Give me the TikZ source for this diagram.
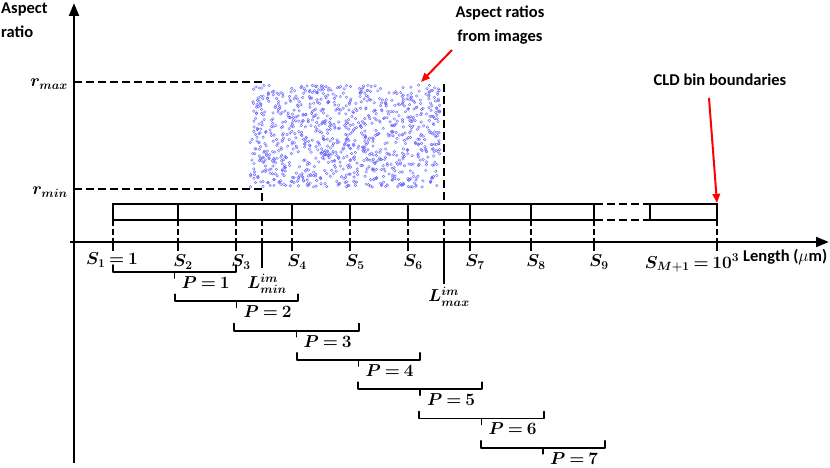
\documentclass[tikz,border=0pt]{standalone}
\usepackage{amsmath, amssymb}
\usepackage{bm}
\usepackage{fontspec}
\newfontfamily\labelfont{Carlito}
\DeclareMathSizes{16}{16}{11.5}{9}
\newcommand{\tightmath}{\thickmuskip=3.5mu\relax}
\usetikzlibrary{arrows.meta}
\usetikzlibrary{positioning,calc}
\tikzset{
    axis/.style={
        draw,
        line width=2.6pt,
        -{Triangle[length=4.5mm, width=3.4mm]}
    },
    binline/.style={
        draw,
        line width=2.2pt
    },
    guide/.style={
        draw,
        line width=2pt,
        dash pattern=on 8pt off 4pt
    },
    tickdash/.style={
        draw,
        line width=2.2pt,
        dash pattern=on 6pt off 3pt
    },
    pointer/.style={
        draw=red,
        line width=2pt,
        -{Triangle[length=3.2mm, width=2.6mm]}
    },
    bracket/.style={
        draw,
        line width=1.8pt,
        line cap=round,
        line join=round
    },
    caption/.style={
        font=\labelfont\bfseries\fontsize{16.5}{24}\selectfont,
        align=center,
        inner sep=0pt
    },
    mathlabel/.style={
        font=\fontsize{16}{18}\selectfont\boldmath\tightmath,
        inner sep=0pt
    },
    sample/.style={
        draw=blue!60,
        line width=0.4pt
    }
}

\begin{document}
\begin{tikzpicture}[x=1pt, y=-1pt]
    \useasboundingbox (0,0) rectangle (830,468);

    % Aspect ratios from images
    \pgfmathsetseed{42}
    \foreach \i in {1,...,1000} {
        \pgfmathsetmacro{\px}{254+7.9*floor(24*rnd)+4*rand}
        \pgfmathsetmacro{\py}{85+102*rnd}
        \draw[sample] (\px,\py) circle[radius=1.3pt];
    }

    % Axes
    \coordinate (origin) at (74,242);
    \coordinate (ybase) at (74,463);
    \coordinate (ytip) at (74,3);
    \coordinate (xbase) at (70,242);
    \coordinate (xtip) at (829,242);
    \draw[axis] (ybase) -- (ytip);
    \draw[axis] (xbase) -- (xtip);
    \node[caption, align=left, anchor=north west] (ylabel) at (1,3) {Aspect\\ratio};
    \node[caption, anchor=west] (xlabel) at (743,257) {Length ($\mu$m)};

    % Ratio limits
    \coordinate (rmax) at (74,82);
    \coordinate (rmin) at (74,189);
    \coordinate (rmax end) at (262,82);
    \coordinate (rmin end) at (262,189);
    \coordinate (lmin top) at (262,204);
    \coordinate (lmax top) at (444,84);
    \coordinate (lmax bot) at (444,204);
    \node[mathlabel, anchor=east] (rmaxlab) at (68,84) {$\bm{r_{max}}$};
    \node[mathlabel, anchor=east] (rminlab) at (68,192) {$\bm{r_{min}}$};
    \draw[guide] (rmax) -- (rmax end);
    \draw[guide] (rmin) -- (rmin end) -- (lmin top);
    \draw[guide, line width=1.5pt] (lmax top) -- (lmax bot);

    % CLD bins
    \draw[binline] (113,220) -- (113,204) -- (595,204);
    \draw[binline] (113,220) -- (595,220);
    \draw[guide] (595,204) -- (650,204);
    \draw[guide] (595,220) -- (650,220);
    \draw[binline] (650,204) rectangle (717,220);
    \foreach \k/\x in {1/113, 2/178, 3/236, 4/292, 5/350, 6/408, 7/470, 8/531, 9/594, M/717} {
        \coordinate (s\k top) at (\x,204);
        \coordinate (s\k mid) at (\x,220);
        \coordinate (s\k axis) at (\x,242);
        \coordinate (s\k low) at (\x,251);
        \draw[binline] (s\k top) -- (s\k mid);
        \draw[tickdash] (s\k mid) -- (s\k axis);
        \draw[binline] (s\k axis) -- (s\k low);
    }
    \node[mathlabel] (slab1) at (112,260) {$\bm{S_1 = 1}$};
    \foreach \k/\x in {2/178, 3/236, 4/292, 5/350, 6/408, 7/470, 8/531, 9/594} {
        \node[mathlabel] (slab\k) at (\x+5,262) {$\bm{S_{\k}}$};
    }
    \node[mathlabel] (slabM) at (692,263) {$\bm{S_{M+1} = 10^3}$};

    % Image length limits
    \draw[tickdash] (262,220) -- (262,242);
    \draw[binline] (262,242) -- (262,268);
    \node[mathlabel] (lmin) at (267,284) {$\bm{L^{im}_{min}}$};
    \draw[tickdash] (444,220) -- (444,242);
    \draw[binline] (444,242) -- (444,284);
    \node[mathlabel] (lmax) at (449,297) {$\bm{L^{im}_{max}}$};

    % Moving windows
    \foreach \k/\a/\b in {1/113/236, 2/175/298, 3/234/359, 4/297/420, 5/358/482, 6/419/544, 7/481/605} {
        \pgfmathsetmacro{\yb}{272+29.3*(\k-1)}
        \pgfmathsetmacro{\xm}{(\a+\b)/2}
        \draw[bracket] (\a,\yb-7) -- (\a,\yb) -- (\b,\yb) -- (\b,\yb-7);
        \draw[bracket] (\xm,\yb) -- (\xm,\yb+6);
        \node[mathlabel, anchor=west] (p\k) at (\xm+7,\yb+10.5) {$\bm{P = \k}$};
    }

    % Notes
    \node[caption] (imgnote) at (500,25) {Aspect ratios\\from images};
    \coordinate (imgfrom) at (452,50);
    \coordinate (imgtip) at (421,82);
    \draw[pointer] (imgfrom) -- (imgtip);
    \node[caption] (cldnote) at (720,80) {CLD bin boundaries};
    \coordinate (cldfrom) at (709,98);
    \coordinate (cldtip) at (717,203);
    \draw[pointer] (cldfrom) -- (cldtip);
\end{tikzpicture}
\end{document}
